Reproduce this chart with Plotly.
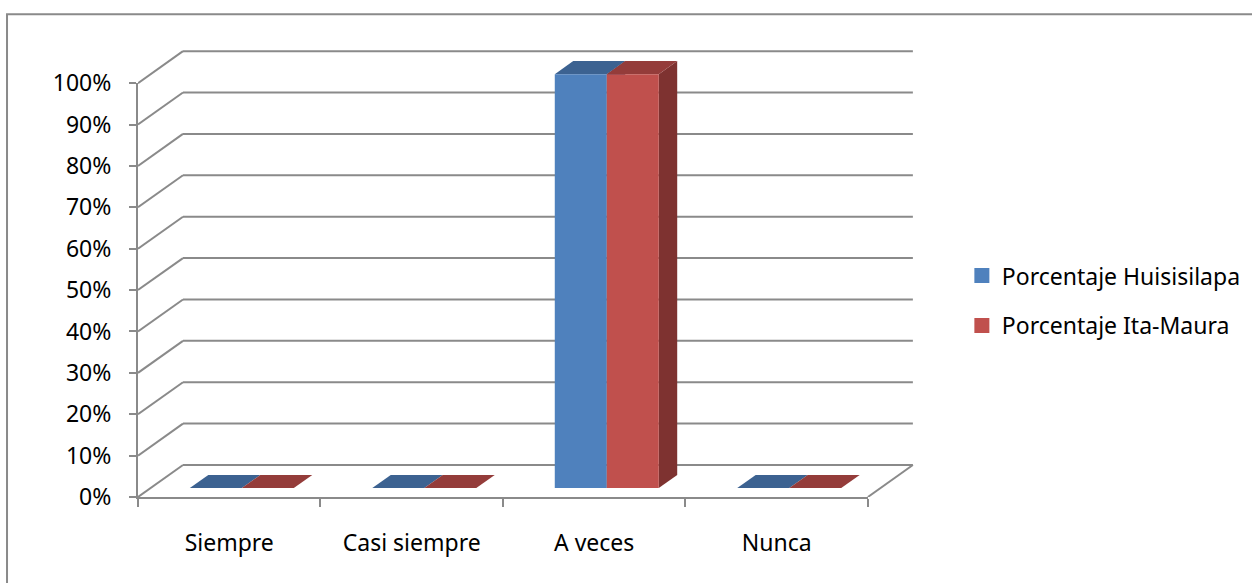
import plotly.graph_objects as go

# ---------------- data ----------------
categories = ["Siempre", "Casi siempre", "A veces", "Nunca"]
huisisilapa = [0, 0, 100, 0]
ita_maura = [0, 0, 100, 0]
series_names = ["Porcentaje Huisisilapa", "Porcentaje Ita-Maura"]
y_tick_values = [0, 10, 20, 30, 40, 50, 60, 70, 80, 90, 100]
y_tick_labels = ["0%", "10%", "20%", "30%", "40%", "50%", "60%", "70%", "80%", "90%", "100%"]

# ---------------- style / projection ----------------
W, H = 1252, 583
PX_CAT = 182.5          # pixels per category
PX_PCT = 4.14           # pixels per percent
DX = 45 / PX_CAT        # oblique depth offset (category units)
DY = 32 / PX_PCT        # oblique depth offset (percent units)
F0, F1 = 0.28, 0.69     # bar front / back depth fractions
BAR_W = 52 / PX_CAT     # bar width (category units)
PAD_X, PAD_Y = 0.05, 1.0
LEFT, BOTTOM = 138, 86
GRID = "#8a8a8a"
FONT = "Noto Sans"
FS = 23

colors = {
    0: dict(front="#4F81BD", top="#3C6291", side="#2F4E74"),
    1: dict(front="#C0504D", top="#943C3A", side="#7E3230"),
}

n = len(categories)
x_lo, x_hi = -0.5, n - 0.5 + DX + PAD_X
y_lo, y_hi = 0, 100 + DY + PAD_Y
plot_w = (x_hi - x_lo) * PX_CAT
plot_h = (y_hi - y_lo) * PX_PCT
m_l = LEFT
m_r = W - LEFT - plot_w
m_b = BOTTOM
m_t = H - BOTTOM - plot_h


def sh(x, y, f):
    return x + f * DX, y + f * DY


fig = go.Figure()

# ---------------- walls / gridlines ----------------
gx, gy = [], []
for v in y_tick_values:
    a = sh(-0.5, v, 0)
    b = sh(-0.5, v, 1)
    gx += [a[0], b[0], None]
    gy += [a[1], b[1], None]
    c = sh(n - 0.5, v, 1)
    gx += [b[0], c[0], None]
    gy += [b[1], c[1], None]
a = sh(n - 0.5, 0, 0)
b = sh(n - 0.5, 0, 1)
gx += [a[0], b[0], None]
gy += [a[1], b[1], None]

fig.add_trace(go.Scatter(x=gx, y=gy, mode="lines", line=dict(color=GRID, width=2),
                         hoverinfo="skip", showlegend=False))

# ---------------- 3D bars ----------------
def poly(pts, color):
    xs = [p[0] for p in pts] + [pts[0][0]]
    ys = [p[1] for p in pts] + [pts[0][1]]
    fig.add_trace(go.Scatter(x=xs, y=ys, mode="lines", fill="toself", fillcolor=color,
                             line=dict(width=0, color=color), hoverinfo="skip",
                             showlegend=False))


series = [huisisilapa, ita_maura]
for i in range(n):
    for s, vals in enumerate(series):
        v = vals[i]
        xl = i - BAR_W + s * BAR_W
        xr = xl + BAR_W
        c = colors[s]
        if v > 0:
            poly([sh(xr, 0, F0), sh(xr, 0, F1), sh(xr, v, F1), sh(xr, v, F0)], c["side"])
        poly([sh(xl, v, F0), sh(xr, v, F0), sh(xr, v, F1), sh(xl, v, F1)], c["top"])
        if v > 0:
            poly([sh(xl, 0, F0), sh(xr, 0, F0), sh(xr, v, F0), sh(xl, v, F0)], c["front"])

# ---------------- legend entries ----------------
for s, name in enumerate(series_names):
    fig.add_trace(go.Scatter(x=[None], y=[None], mode="markers", name=name,
                             marker=dict(symbol="square", size=15, color=colors[s]["front"]),
                             legendgroup=name, xaxis="x2", yaxis="y2"))

# ---------------- layout ----------------
front_frac_x = n / (x_hi - x_lo)
front_frac_y = 100 / (y_hi - y_lo)


def px_to_paper_x(px):
    return (px - m_l) / plot_w


def px_to_paper_y(py):
    return (H - m_b - py) / plot_h


fig.update_layout(
    width=W, height=H,
    margin=dict(l=m_l, r=m_r, t=m_t, b=m_b, pad=0, autoexpand=False),
    paper_bgcolor="white", plot_bgcolor="rgba(0,0,0,0)",
    font=dict(family=FONT, size=FS, color="black"),
    xaxis=dict(range=[x_lo, x_hi], visible=False, fixedrange=True),
    yaxis=dict(range=[y_lo, y_hi], visible=False, fixedrange=True),
    xaxis2=dict(domain=[0, front_frac_x], range=[-0.5, n - 0.5], anchor="y2",
                showgrid=False, zeroline=False, showline=True, linecolor=GRID, linewidth=2,
                tickmode="array", tickvals=list(range(n)), ticktext=categories,
                ticks="", ticklabelstandoff=24,
                minor=dict(ticks="outside", ticklen=8, tickwidth=2, tickcolor=GRID,
                           tick0=-0.5, dtick=1, showgrid=False),
                fixedrange=True),
    yaxis2=dict(domain=[0, front_frac_y], range=[0, 100], anchor="x2",
                showgrid=False, zeroline=False, showline=True, linecolor=GRID, linewidth=2,
                tickmode="array", tickvals=y_tick_values, ticktext=y_tick_labels,
                ticks="outside", ticklen=7, tickwidth=2, tickcolor=GRID,
                ticklabelstandoff=13, fixedrange=True),
    legend=dict(x=px_to_paper_x(962), y=px_to_paper_y(254), xanchor="left", yanchor="top",
                traceorder="grouped", tracegroupgap=17, font=dict(size=FS),
                bgcolor="rgba(0,0,0,0)", itemclick=False, itemdoubleclick=False),
    showlegend=True,
    shapes=[dict(type="rect", xref="paper", yref="paper",
                 x0=px_to_paper_x(7), x1=px_to_paper_x(W + 20),
                 y0=px_to_paper_y(H + 20), y1=px_to_paper_y(14),
                 line=dict(color=GRID, width=2), fillcolor="rgba(0,0,0,0)", layer="below")],
)

fig.write_html("out.html")
